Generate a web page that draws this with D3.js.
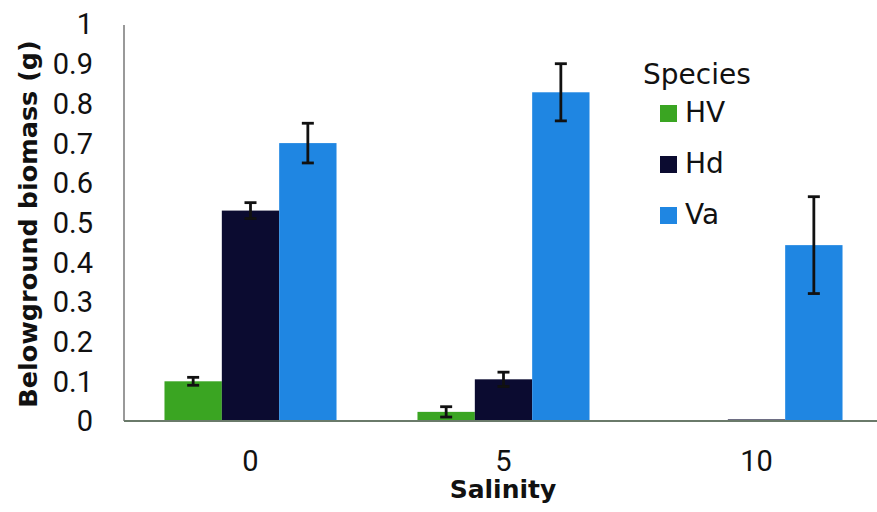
<!DOCTYPE html>
<html>
<head>
<meta charset="utf-8">
<script src="https://cdn.jsdelivr.net/npm/d3@7"></script>
<style>
  body { margin: 0; background: #fff; }
  svg { display: block; font-family: "DejaVu Sans", sans-serif; }
</style>
</head>
<body>
<div class="chart"></div>
<script>
// salinity levels and species
const salinity = ["0", "5", "10"];
const species = ["HV", "Hd", "Va"];
const colors = ["#3aa522", "#0b0b30", "#1f86e2"];
const yTicks = [0, 0.1, 0.2, 0.3, 0.4, 0.5, 0.6, 0.7, 0.8, 0.9, 1];

// means per species, in salinity order
const hvMean = [0.10, 0.023, 0];
const hdMean = [0.53, 0.105, 0.004];
const vaMean = [0.70, 0.828, 0.443];
// standard errors
const hvErr = [0.01, 0.013, 0];
const hdErr = [0.02, 0.018, 0];
const vaErr = [0.05, 0.072, 0.122];

const means = [hvMean, hdMean, vaMean];
const errs = [hvErr, hdErr, vaErr];

const outerW = 877, outerH = 512;
const margin = { left: 124, right: -6, top: 24, bottom: 91 };
const w = outerW - margin.left - margin.right,
  h = outerH - margin.top - margin.bottom;

const svg = d3.select('.chart').append('svg')
  .attr('width', outerW)
  .attr('height', outerH);

const g = svg.append('g')
  .attr('transform', `translate(${margin.left}, ${margin.top})`);

const x0 = d3.scaleBand().domain(salinity).range([0, w]).paddingInner(0.32).paddingOuter(0.16);
const x1 = d3.scaleBand().domain(species).range([0, x0.bandwidth()]);
const y = d3.scaleLinear().domain([0, 1]).range([h, 0]);

// bars
const rows = [];
salinity.forEach((s, i) => species.forEach((sp, j) => {
  rows.push({ s, sp, j, v: means[j][i], e: errs[j][i] });
}));

g.selectAll('rect.bar')
  .data(rows)
  .enter()
  .append('rect')
  .attr('class', 'bar')
  .attr('x', d => x0(d.s) + x1(d.sp))
  .attr('y', d => y(d.v))
  .attr('width', x1.bandwidth())
  .attr('height', d => h - y(d.v))
  .attr('fill', d => colors[d.j]);

// error bars
const eb = g.selectAll('g.err')
  .data(rows.filter(d => d.e > 0))
  .enter()
  .append('g')
  .attr('class', 'err')
  .attr('stroke', '#111')
  .attr('stroke-width', 2.8);

const cx = d => x0(d.s) + x1(d.sp) + x1.bandwidth() / 2;
eb.append('line')
  .attr('x1', cx).attr('x2', cx)
  .attr('y1', d => y(d.v + d.e)).attr('y2', d => y(d.v - d.e));
eb.append('line')
  .attr('x1', d => cx(d) - 6).attr('x2', d => cx(d) + 6)
  .attr('y1', d => y(d.v + d.e)).attr('y2', d => y(d.v + d.e));
eb.append('line')
  .attr('x1', d => cx(d) - 6).attr('x2', d => cx(d) + 6)
  .attr('y1', d => y(d.v - d.e)).attr('y2', d => y(d.v - d.e));

// axes
g.append('line')
  .attr('x1', 0).attr('x2', 0)
  .attr('y1', 1).attr('y2', h)
  .attr('stroke', '#555').attr('stroke-width', 1.2);
g.append('line')
  .attr('x1', 0).attr('x2', outerW - margin.left)
  .attr('y1', h).attr('y2', h)
  .attr('stroke', '#6a7a6a').attr('stroke-width', 2);

g.selectAll('text.ytick')
  .data(yTicks)
  .enter()
  .append('text')
  .attr('class', 'ytick')
  .attr('x', -31)
  .attr('y', d => y(d))
  .attr('dy', '0.36em')
  .attr('text-anchor', 'end')
  .style('font-family', 'Roboto, sans-serif')
  .style('font-size', '29px')
  .attr('fill', '#111')
  .text(d => d);

g.selectAll('text.xtick')
  .data(salinity)
  .enter()
  .append('text')
  .attr('class', 'xtick')
  .attr('x', d => x0(d) + x0.bandwidth() / 2)
  .attr('y', h + 40)
  .attr('dy', '0.36em')
  .attr('text-anchor', 'middle')
  .style('font-family', 'Roboto, sans-serif')
  .style('font-size', '29px')
  .attr('fill', '#111')
  .text(d => d);

svg.append('text')
  .attr('x', 503).attr('y', 498)
  .attr('text-anchor', 'middle')
  .style('font-size', '25px').style('font-weight', 'bold')
  .attr('fill', '#111')
  .text('Salinity');

svg.append('text')
  .attr('transform', 'translate(37, 224) rotate(-90)')
  .attr('text-anchor', 'middle')
  .style('font-size', '25.5px').style('font-weight', 'bold')
  .attr('fill', '#111')
  .text('Belowground biomass (g)');

// legend
const legend = svg.append('g').attr('transform', 'translate(643, 0)');
legend.append('text')
  .attr('x', 0).attr('y', 84)
  .style('font-size', '28px')
  .attr('fill', '#111')
  .text('Species');
const item = legend.selectAll('g.item')
  .data(species)
  .enter()
  .append('g')
  .attr('class', 'item')
  .attr('transform', (d, i) => `translate(17, ${105 + i * 51})`);
item.append('rect')
  .attr('width', 17).attr('height', 17)
  .attr('fill', (d, i) => colors[i]);
item.append('text')
  .attr('x', 25).attr('y', 17)
  .style('font-size', '28px')
  .attr('fill', '#111')
  .text(d => d);
</script>
</body>
</html>
